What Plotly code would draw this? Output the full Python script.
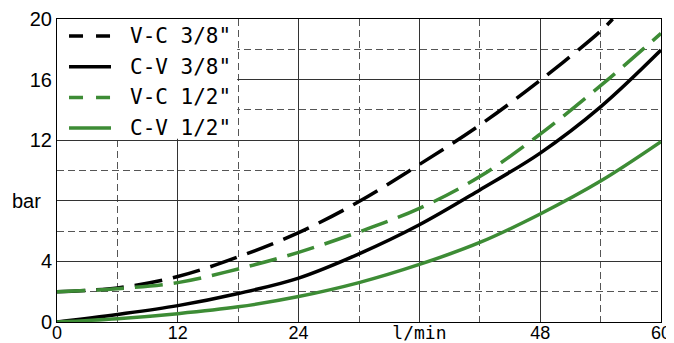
import plotly.graph_objects as go

# ---- data ----
flow = [0, 6, 12, 18, 24, 30, 36, 42, 48, 54, 60]
flow_vc38 = [0, 6, 12, 18, 24, 30, 36, 42, 48, 54, 55.2]
vc_38 = [2.0, 2.25, 3.0, 4.3, 5.9, 7.95, 10.4, 13.0, 15.95, 19.2, 20.0]
cv_38 = [0, 0.5, 1.08, 1.88, 2.9, 4.5, 6.42, 8.72, 11.15, 14.2, 17.95]
vc_12 = [2.0, 2.2, 2.6, 3.5, 4.6, 5.95, 7.5, 9.6, 12.4, 15.6, 19.05]
cv_12 = [0, 0.22, 0.55, 1.0, 1.68, 2.6, 3.8, 5.25, 7.13, 9.3, 11.9]
series_names = ['V-C 3/8"', 'C-V 3/8"', 'V-C 1/2"', 'C-V 1/2"']
x_tickvals = [0, 12, 24, 36, 48, 60]
x_ticktext = ['0', '12', '24', '<span style="font-family:DejaVu Sans Mono">l/min</span>', '48', '60']
y_tickvals = [0, 4, 8, 12, 16, 20]
y_ticktext = ['0', '4', 'bar&nbsp;&nbsp;', '12', '16', '20']

GREEN = '#3d8c35'
BLACK = '#000000'
CURVE_DASH = '28px,11px'
LEGEND_DASH = '14px,13px'

series = [
    (flow_vc38, vc_38, BLACK, CURVE_DASH, LEGEND_DASH),
    (flow, cv_38, BLACK, 'solid', 'solid'),
    (flow, vc_12, GREEN, CURVE_DASH, LEGEND_DASH),
    (flow, cv_12, GREEN, 'solid', 'solid'),
]

fig = go.Figure()
for (xs, ys, col, dash, _), name in zip(series, series_names):
    fig.add_trace(go.Scatter(
        x=xs, y=ys, name=name, mode='lines',
        line=dict(color=col, width=3.5, dash=dash, shape='spline', smoothing=1.0),
        showlegend=False, cliponaxis=True,
    ))

# white panel behind the legend (covers the grid)
fig.add_shape(type='rect', xref='x', yref='y', x0=0, x1=17.9, y0=12.1, y1=20,
              fillcolor='white', line=dict(width=0), layer='between')

# manual legend
legend_y = [0.944, 0.842, 0.741, 0.640]
for (xs, ys, col, _, ldash), name, ly in zip(series, series_names, legend_y):
    fig.add_shape(type='line', xref='paper', yref='paper', x0=0.0199, x1=0.0894,
                  y0=ly, y1=ly, line=dict(color=col, width=3.5, dash=ldash))
    fig.add_annotation(xref='paper', yref='paper', x=0.118, y=ly, text=name,
                       showarrow=False, xanchor='left', yanchor='middle',
                       font=dict(family='DejaVu Sans Mono', size=21, color='black'))

# the page adds an 8px body margin, so the figure is made 8px smaller
fig.update_layout(
    width=666, height=335,
    margin=dict(l=49, r=13, t=11, b=21, autoexpand=False),
    plot_bgcolor='white', paper_bgcolor='white',
    font=dict(family='Liberation Sans, Arial, sans-serif', size=20, color='black'),
    showlegend=False,
)
fig.update_xaxes(
    range=[0, 60], tickvals=x_tickvals, ticktext=x_ticktext, ticks='',
    automargin=False, ticklabelstandoff=-6,
    tickfont=dict(size=18),
    showgrid=True, gridcolor='#333333', gridwidth=1, zeroline=False,
    minor=dict(dtick=6, tick0=0, showgrid=True, gridcolor='#555555', griddash='7px,4px', gridwidth=1),
    showline=True, linecolor='black', linewidth=1, mirror=True,
)
fig.update_yaxes(
    range=[0, 20], tickvals=y_tickvals, ticktext=y_ticktext, ticks='',
    automargin=False,
    showgrid=True, gridcolor='#333333', gridwidth=1, zeroline=False,
    minor=dict(dtick=2, tick0=0, showgrid=True, gridcolor='#555555', griddash='7px,4px', gridwidth=1),
    showline=True, linecolor='black', linewidth=1, mirror=True,
)

fig.write_html('out.html')
